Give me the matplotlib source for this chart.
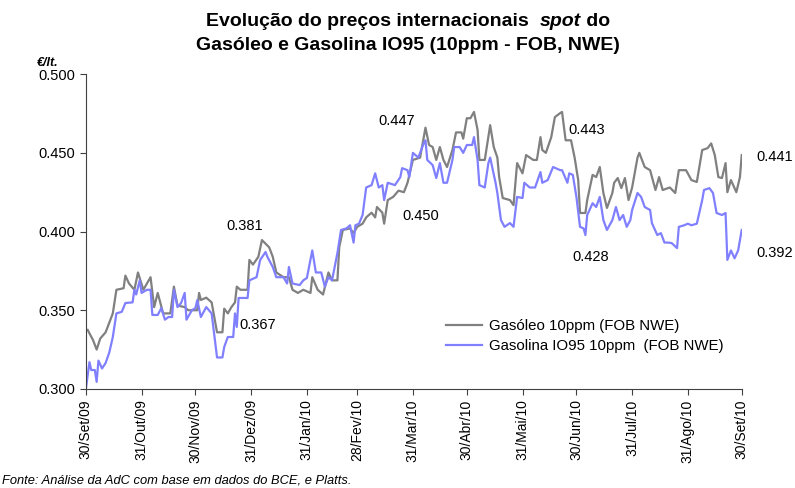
import numpy as np
import pandas as pd
import matplotlib
matplotlib.use('Agg')
import matplotlib.pyplot as plt

plt.rcParams['font.family'] = ['Liberation Sans', 'DejaVu Sans']

# dias desde 30/Set/09 e preços (EUR/lt)
gasoleo_dias = [1, 4, 6, 8, 11, 12, 15, 17, 21, 22, 24, 27, 29, 32, 36, 38, 40, 43, 47, 49,
                51, 55, 57, 62, 63, 64, 67, 70, 73, 76, 77, 79, 81, 83, 84, 86, 90, 91, 93, 96,
                98, 102, 104, 106, 110, 113, 115, 118, 121, 125, 126, 129, 132, 135, 137, 140, 141, 143, 147, 149,
                151, 154, 156, 159, 161, 162, 165, 166, 168, 171, 174, 177, 179, 182, 186, 189, 191, 193, 195, 197,
                199, 201, 204, 206, 209, 210, 212, 214, 216, 218, 219, 222, 224, 225, 227, 229, 230, 232, 236, 238,
                240, 243, 245, 249, 251, 253, 254, 256, 259, 261, 264, 265, 267, 270, 272, 274, 275, 278, 279, 282,
                284, 286, 288, 290, 293, 294, 296, 298, 300, 302, 304, 307, 308, 311, 314, 317, 319, 321, 325, 328,
                330, 334, 337, 340, 343, 346, 348, 350, 352, 354, 356, 357, 359, 362, 364, 365]
gasoleo = [0.3375, 0.331, 0.325, 0.332, 0.336, 0.339, 0.348, 0.363, 0.364, 0.372, 0.367, 0.363, 0.374, 0.363, 0.371, 0.352, 0.361, 0.348, 0.348, 0.365,
           0.353, 0.352, 0.350, 0.350, 0.361, 0.3565, 0.358, 0.355, 0.336, 0.336, 0.351, 0.348, 0.352, 0.355, 0.365, 0.363, 0.363, 0.382, 0.379, 0.384,
           0.3946, 0.390, 0.384, 0.374, 0.371, 0.371, 0.363, 0.361, 0.363, 0.361, 0.371, 0.363, 0.360, 0.374, 0.369, 0.369, 0.390, 0.401, 0.402, 0.399,
           0.403, 0.405, 0.409, 0.412, 0.409, 0.4156, 0.412, 0.405, 0.420, 0.422, 0.426, 0.425, 0.431, 0.4455, 0.447, 0.466, 0.455, 0.4537, 0.4455, 0.4537,
           0.4455, 0.441, 0.4518, 0.463, 0.463, 0.459, 0.472, 0.472, 0.476, 0.4645, 0.4455, 0.4455, 0.460, 0.4676, 0.4537, 0.447, 0.4346, 0.4213, 0.420, 0.4168,
           0.4435, 0.437, 0.4486, 0.4455, 0.4455, 0.460, 0.4518, 0.450, 0.460, 0.4727, 0.4753, 0.476, 0.458, 0.458, 0.447, 0.4327, 0.4118, 0.4118, 0.420, 0.436,
           0.4346, 0.441, 0.4245, 0.415, 0.4245, 0.431, 0.434, 0.4276, 0.434, 0.420, 0.428, 0.447, 0.450, 0.441, 0.439, 0.4264, 0.4346, 0.4264, 0.428, 0.4245,
           0.439, 0.439, 0.4327, 0.4315, 0.4518, 0.453, 0.456, 0.4486, 0.4346, 0.434, 0.4435, 0.425, 0.4327, 0.425, 0.4346, 0.4486]

gasolina_dias = [0, 2, 3, 5, 6, 7, 9, 11, 13, 15, 17, 20, 22, 26, 27, 28, 30, 31, 34, 36,
                 37, 40, 42, 44, 46, 48, 49, 51, 53, 55, 56, 59, 61, 62, 64, 67, 70, 73, 76, 77,
                 79, 82, 83, 84, 85, 87, 90, 91, 95, 97, 100, 101, 104, 106, 110, 112, 113, 115, 119, 121,
                 123, 126, 128, 131, 133, 135, 137, 140, 142, 145, 147, 149, 150, 152, 154, 156, 159, 161, 163, 165,
                 166, 168, 172, 175, 176, 179, 180, 182, 185, 188, 189, 190, 193, 195, 197, 199, 201, 204, 205, 208,
                 210, 212, 215, 216, 218, 219, 222, 224, 225, 228, 229, 231, 233, 236, 238, 240, 243, 244, 247, 250,
                 253, 254, 257, 260, 264, 265, 268, 269, 271, 273, 275, 277, 278, 279, 282, 284, 286, 288, 290, 293,
                 295, 297, 299, 301, 303, 304, 307, 309, 311, 314, 315, 318, 320, 322, 324, 326, 329, 330, 333, 335,
                 337, 340, 343, 344, 347, 349, 351, 354, 356, 357, 359, 361, 363, 365]
gasolina = [0.300, 0.317, 0.312, 0.312, 0.3045, 0.318, 0.313, 0.3165, 0.323, 0.333, 0.348, 0.349, 0.3546, 0.355, 0.363, 0.360, 0.369, 0.361, 0.363, 0.363,
            0.347, 0.347, 0.3514, 0.344, 0.3457, 0.3457, 0.363, 0.352, 0.3546, 0.361, 0.344, 0.350, 0.3514, 0.3565, 0.3457, 0.352, 0.348, 0.320, 0.320, 0.3267,
            0.333, 0.333, 0.348, 0.3394, 0.3578, 0.3578, 0.3578, 0.369, 0.371, 0.382, 0.387, 0.384, 0.3775, 0.371, 0.371, 0.367, 0.3775, 0.367, 0.366, 0.369,
            0.3705, 0.388, 0.374, 0.374, 0.365, 0.371, 0.369, 0.3864, 0.401, 0.402, 0.404, 0.393, 0.404, 0.405, 0.4105, 0.428, 0.4295, 0.437, 0.428, 0.4295,
            0.420, 0.431, 0.4295, 0.4346, 0.4403, 0.439, 0.4346, 0.450, 0.447, 0.456, 0.458, 0.4455, 0.4422, 0.434, 0.4435, 0.431, 0.431, 0.4455, 0.4537, 0.4537,
            0.450, 0.455, 0.455, 0.460, 0.4455, 0.4295, 0.428, 0.4435, 0.447, 0.431, 0.4245, 0.4073, 0.403, 0.4054, 0.403, 0.422, 0.4213, 0.431, 0.428, 0.428,
            0.4378, 0.431, 0.4327, 0.441, 0.439, 0.439, 0.431, 0.437, 0.436, 0.422, 0.403, 0.402, 0.3978, 0.4105, 0.418, 0.4156, 0.422, 0.4073, 0.401, 0.4073,
            0.4156, 0.4073, 0.4105, 0.403, 0.4073, 0.4137, 0.4245, 0.422, 0.4156, 0.4137, 0.4054, 0.3978, 0.399, 0.393, 0.393, 0.3927, 0.3895, 0.403, 0.404, 0.405,
            0.404, 0.405, 0.420, 0.4264, 0.4276, 0.4245, 0.4118, 0.4105, 0.4118, 0.382, 0.388, 0.383, 0.388, 0.401]

tick_dias = [0, 31, 61, 92, 123, 151, 182, 212, 243, 273, 304, 335, 365]
tick_labels = ['30/Set/09', '31/Out/09', '30/Nov/09', '31/Dez/09', '31/Jan/10', '28/Fev/10',
               '31/Mar/10', '30/Abr/10', '31/Mai/10', '30/Jun/10', '31/Jul/10', '31/Ago/10', '30/Set/10']

# rótulos de valores (texto, dia, valor)
rotulos = [('0.367', 95.7, 0.3406), ('0.381', 88.5, 0.4035), ('0.447', 173, 0.470),
           ('0.450', 186.4, 0.410), ('0.443', 278.8, 0.4645), ('0.428', 281, 0.3838),
           ('0.441', 383.4, 0.4473), ('0.392', 383.4, 0.3864)]

base = pd.Timestamp('2009-09-30')
dt_gasoleo = base + pd.to_timedelta(gasoleo_dias, unit='D')
dt_gasolina = base + pd.to_timedelta(gasolina_dias, unit='D')
dt_ticks = base + pd.to_timedelta(tick_dias, unit='D')

fig = plt.figure(figsize=(7.95, 4.88), dpi=100)
ax = fig.add_axes([0.108, 0.203, 0.825, 0.645])

ax.plot(dt_gasoleo, gasoleo, color='#808080', lw=1.6, label='Gasóleo 10ppm (FOB NWE)')
ax.plot(dt_gasolina, gasolina, color='#8080ff', lw=1.6, label='Gasolina IO95 10ppm  (FOB NWE)')

ax.set_xlim(base, base + pd.Timedelta(days=365))
ax.set_ylim(0.3, 0.5)
ax.set_yticks(np.arange(0.3, 0.501, 0.05))
ax.set_yticklabels(['%.3f' % v for v in np.arange(0.3, 0.501, 0.05)], fontsize=10.5)
ax.set_xticks(dt_ticks)
ax.set_xticklabels(tick_labels, rotation=90, fontsize=10)
ax.tick_params(axis='both', direction='out', length=4, color='#404040')
for s in ['top', 'right']:
    ax.spines[s].set_visible(False)
for s in ['left', 'bottom']:
    ax.spines[s].set_color('#404040')

for txt, d, v in rotulos:
    ax.text(base + pd.Timedelta(days=d), v, txt, fontsize=10.5, ha='center', va='center', clip_on=False)

leg = ax.legend(loc='upper left', bbox_to_anchor=(0.538, 0.245), frameon=False, fontsize=10.8,
                handlelength=2.4, handletextpad=0.45, labelspacing=0.4, borderpad=0)

ax.text(-0.075, 1.035, '€/lt.', transform=ax.transAxes, fontsize=9, fontweight='bold',
        style='italic', ha='left', va='center')

fig.text(0.003, 0.015, 'Fonte: Análise da AdC com base em dados do BCE, e Platts.',
         fontsize=9.3, style='italic', ha='left', va='center')

# título com "spot" em itálico
r = fig.canvas.get_renderer()
partes = [('Evolução do preços internacionais  ', 'normal'), ('spot', 'italic'), (' do', 'normal')]
objs = [fig.text(0, 1 - 22 / 488, p, fontsize=14, fontweight='bold', style=st, va='center')
        for p, st in partes]
larg = [o.get_window_extent(r).width / fig.bbox.width for o in objs]
x0 = 0.513 - sum(larg) / 2
for o, w in zip(objs, larg):
    o.set_x(x0)
    x0 += w
fig.text(0.513, 1 - 45 / 488, 'Gasóleo e Gasolina IO95 (10ppm - FOB, NWE)', fontsize=14,
         fontweight='bold', ha='center', va='center')

fig.savefig('out.png', dpi=100)
